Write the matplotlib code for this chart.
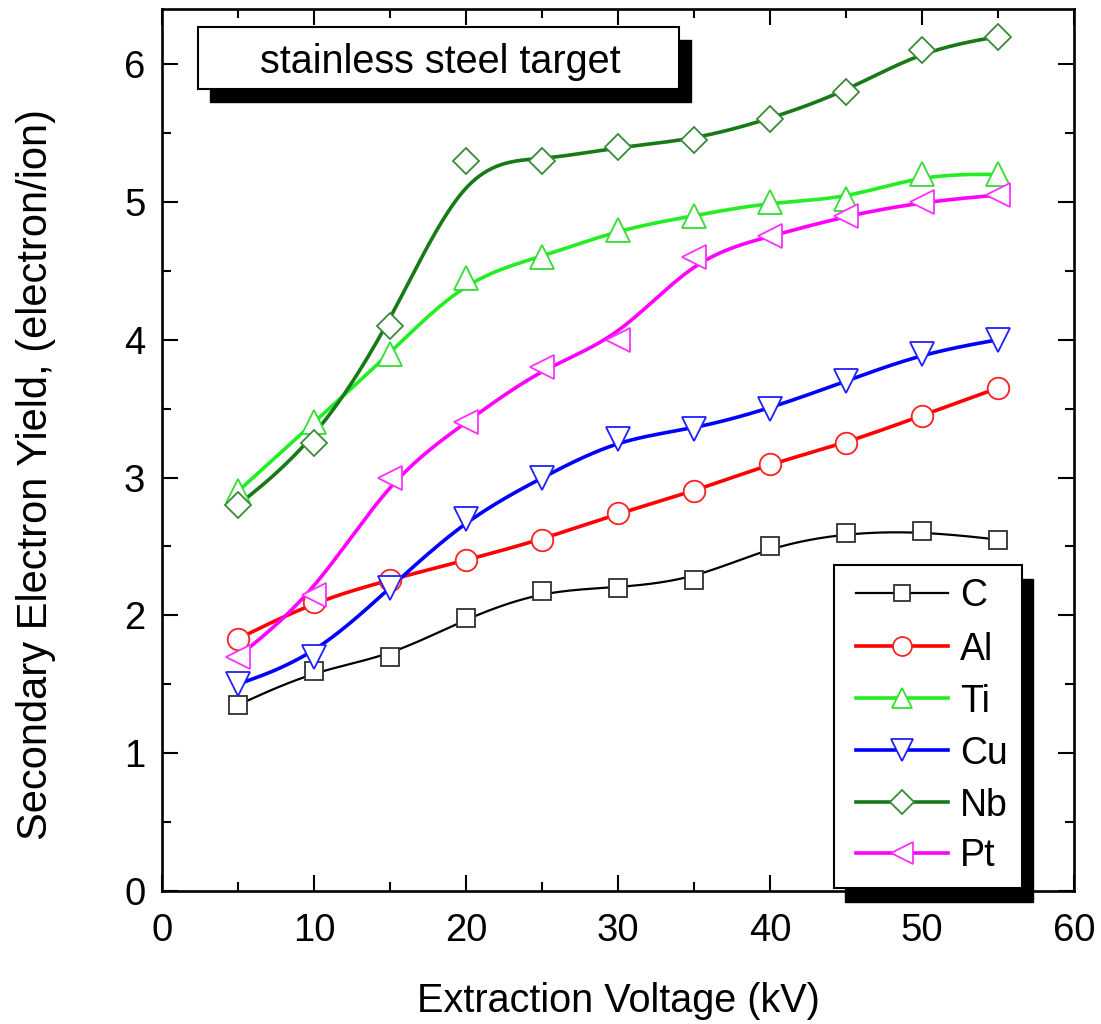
import numpy as np
import matplotlib
matplotlib.use("Agg")
import matplotlib.pyplot as plt
from matplotlib.lines import Line2D
from matplotlib.patches import Rectangle
from matplotlib.ticker import MultipleLocator

plt.rcParams['font.family'] = ['Liberation Sans', 'DejaVu Sans']

# Extraction voltage (kV)
voltage = [5, 10, 15, 20, 25, 30, 35, 40, 45, 50, 55]

# Secondary electron yield (electron/ion) per projectile species
yield_C = [1.35, 1.60, 1.70, 1.98, 2.18, 2.20, 2.26, 2.50, 2.60, 2.61, 2.55]
yield_Al = [1.83, 2.10, 2.26, 2.40, 2.55, 2.74, 2.90, 3.10, 3.25, 3.45, 3.65]
yield_Ti = [2.90, 3.40, 3.90, 4.45, 4.60, 4.80, 4.90, 5.00, 5.02, 5.20, 5.20]
yield_Cu = [1.50, 1.70, 2.20, 2.70, 3.00, 3.28, 3.35, 3.50, 3.70, 3.90, 4.00]
yield_Nb = [2.80, 3.25, 4.10, 5.30, 5.30, 5.40, 5.45, 5.60, 5.80, 6.10, 6.20]
yield_Pt = [1.70, 2.15, 3.00, 3.40, 3.80, 4.00, 4.60, 4.75, 4.90, 5.00, 5.05]

species = ['C', 'Al', 'Ti', 'Cu', 'Nb', 'Pt']
series = [yield_C, yield_Al, yield_Ti, yield_Cu, yield_Nb, yield_Pt]

colors = ['#000000', '#ff0000', '#22ee22', '#0000ff', '#177a17', '#ff00ff']
edge_colors = ['#303030', '#ff2020', '#33dd33', '#2020ff', '#3a8a3a', '#ff30ff']
markers = ['s', 'o', '^', 'v', 'D', '<']
msizes = [13.5, 15.5, 17.0, 17.5, 13.5, 17.5]
lwidths = [1.6, 2.6, 2.6, 2.6, 2.6, 2.6]

W, H = 1101, 1024


def bspline(xs, ys, n=40):
    """Clamped uniform cubic B-spline using the data as control points."""
    px = np.r_[[xs[0]] * 2, xs, [xs[-1]] * 2].astype(float)
    py = np.r_[[ys[0]] * 2, ys, [ys[-1]] * 2].astype(float)
    t = np.linspace(0, 1, n, endpoint=False)
    b0 = (1 - t) ** 3 / 6
    b1 = (3 * t ** 3 - 6 * t ** 2 + 4) / 6
    b2 = (-3 * t ** 3 + 3 * t ** 2 + 3 * t + 1) / 6
    b3 = t ** 3 / 6
    cx, cy = [], []
    for i in range(len(px) - 3):
        cx.append(b0 * px[i] + b1 * px[i + 1] + b2 * px[i + 2] + b3 * px[i + 3])
        cy.append(b0 * py[i] + b1 * py[i + 1] + b2 * py[i + 2] + b3 * py[i + 3])
    cx.append([xs[-1]])
    cy.append([ys[-1]])
    return np.concatenate(cx), np.concatenate(cy)


def fx(px):
    return px / W


def fy(py):
    return 1 - py / H


fig = plt.figure(figsize=(W / 100, H / 100), dpi=100)
ax = fig.add_axes([fx(162), fy(891), (1074 - 162) / W, (891 - 9) / H])

for ys, c, ec, m, ms, lw in zip(series, colors, edge_colors, markers, msizes, lwidths):
    sx, sy = bspline(voltage, ys)
    ax.plot(sx, sy, color=c, lw=lw, zorder=2, solid_capstyle='round')
    ax.plot(voltage, ys, ls='none', marker=m, ms=ms, mfc='white',
            mec=ec, mew=1.3, zorder=3)

ax.set_xlim(0, 60)
ax.set_ylim(0, 6.40)
ax.xaxis.set_major_locator(MultipleLocator(10))
ax.xaxis.set_minor_locator(MultipleLocator(5))
ax.yaxis.set_major_locator(MultipleLocator(1))
ax.yaxis.set_minor_locator(MultipleLocator(0.5))
ax.tick_params(which='both', direction='in', top=True, right=True, width=1.5)
ax.tick_params(which='major', length=11.5)
ax.tick_params(which='minor', length=6.5)
ax.tick_params(axis='x', which='major', labelsize=27.5, pad=15.5)
ax.tick_params(axis='y', which='major', labelsize=27.5, pad=12)
for s in ax.spines.values():
    s.set_linewidth(1.9)

fig.text(fx(618), fy(1012), 'Extraction Voltage (kV)', ha='center',
         va='baseline', fontsize=28.5)
fig.text(fx(36), fy(474), 'Secondary Electron Yield, (electron/ion)',
         rotation=90, ha='center', va='center', fontsize=30)

# Title box with drop shadow
tb_l, tb_t, tb_r, tb_b = 198, 27, 679, 89
fig.patches.append(Rectangle((fx(tb_l + 12), fy(tb_b + 13)), (tb_r - tb_l) / W,
                             (tb_b - tb_t) / H, transform=fig.transFigure,
                             facecolor='black', edgecolor='black', zorder=5))
fig.patches.append(Rectangle((fx(tb_l), fy(tb_b)), (tb_r - tb_l) / W,
                             (tb_b - tb_t) / H, transform=fig.transFigure,
                             facecolor='white', edgecolor='black', lw=1.5, zorder=6))
fig.text(fx((tb_l + tb_r) / 2 + 2), fy(73), 'stainless steel target', ha='center',
         va='baseline', fontsize=28.5, zorder=7)

# Legend box with drop shadow
lg_l, lg_t, lg_r, lg_b = 834, 565, 1022, 888
fig.patches.append(Rectangle((fx(lg_l + 11), fy(lg_b + 14)), (lg_r - lg_l) / W,
                             (lg_b - lg_t) / H, transform=fig.transFigure,
                             facecolor='black', edgecolor='black', zorder=5))
fig.patches.append(Rectangle((fx(lg_l), fy(lg_b)), (lg_r - lg_l) / W,
                             (lg_b - lg_t) / H, transform=fig.transFigure,
                             facecolor='white', edgecolor='black', lw=1.5, zorder=6))
row_y = [593, 646, 698, 750, 802, 853]
for name, c, ec, m, ms, lw, ry in zip(species, colors, edge_colors, markers,
                                      msizes, lwidths, row_y):
    fig.lines.append(Line2D([fx(856), fx(948)], [fy(ry), fy(ry)], color=c, lw=lw,
                            transform=fig.transFigure, zorder=7))
    fig.lines.append(Line2D([fx(902)], [fy(ry)], ls='none', marker=m, ms=ms * 0.88,
                            mfc='white', mec=ec, mew=1.3,
                            transform=fig.transFigure, zorder=8))
    fig.text(fx(960), fy(ry + 13.5), name, ha='left', va='baseline',
             fontsize=27, zorder=8)

fig.savefig('out.png', dpi=100)
